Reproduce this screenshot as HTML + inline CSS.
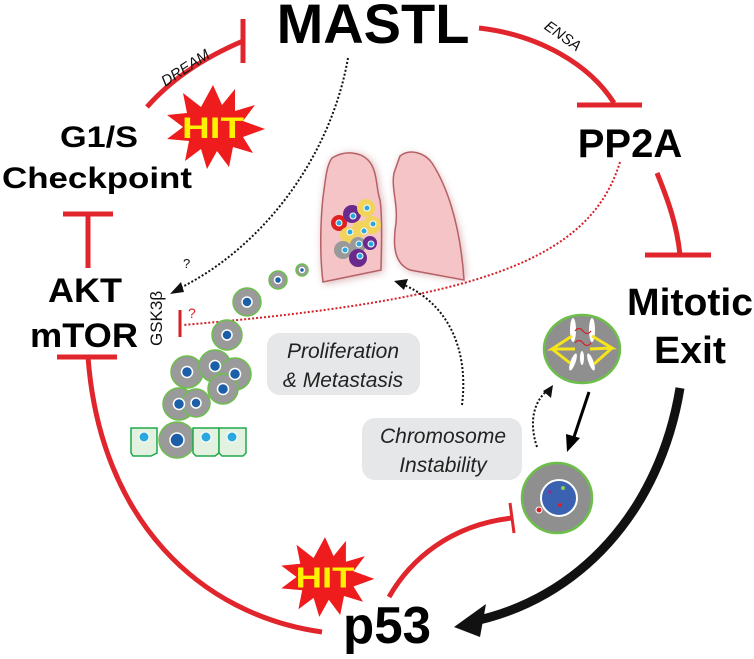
<!DOCTYPE html>
<html><head><meta charset="utf-8"><style>
html,body{margin:0;padding:0;background:#fff;}
svg{display:block;}
text{font-family:"Liberation Sans",sans-serif;}
</style></head><body>
<svg width="754" height="659" viewBox="0 0 754 659" xmlns="http://www.w3.org/2000/svg">
<defs>
<filter id="sh" x="-20%" y="-20%" width="140%" height="140%"><feGaussianBlur stdDeviation="4"/></filter>
</defs>
<!-- lungs -->
<g>
<path d="M332,160 C345,150 360,152 370,160 C380,170 378,190 382,200 C385,220 383,260 383,272 L324,284 C320,250 322,210 325,190 C327,175 328,165 332,160 Z" fill="#c98f92" filter="url(#sh)" opacity="0.7"/>
<path d="M400,158 C410,150 425,155 432,165 C445,185 462,220 466,280 L412,272 C395,265 395,245 398,225 C400,205 393,190 396,175 Z" fill="#c98f92" filter="url(#sh)" opacity="0.7"/>
<path d="M332,158 C345,150 360,152 368,160 C378,170 376,190 380,200 C383,220 381,258 381,270 L323,282 C319,250 321,210 324,190 C326,175 327,165 332,158 Z" fill="#f4c4c6" stroke="#b56165" stroke-width="1.5"/>
<path d="M400,156 C410,148 425,153 432,163 C445,183 460,220 464,280 L410,270 C393,263 393,243 396,223 C398,203 391,188 394,173 Z" fill="#f4c4c6" stroke="#b56165" stroke-width="1.5"/>
<!-- tumor cluster in lung -->
<circle cx="339" cy="223" r="8" fill="#e02020"/>
<circle cx="352" cy="214" r="9" fill="#6a2a8c"/>
<circle cx="366" cy="208" r="9" fill="#f2d45c"/>
<circle cx="372" cy="225" r="9" fill="#f2d45c"/>
<circle cx="360" cy="229" r="8" fill="#f2d45c"/>
<circle cx="348" cy="235" r="8" fill="#f2d45c"/>
<circle cx="343" cy="250" r="9" fill="#999"/>
<circle cx="358" cy="245" r="8" fill="#999"/>
<circle cx="370" cy="243" r="7" fill="#6a2a8c"/>
<circle cx="358" cy="258" r="9" fill="#6a2a8c"/>
<g fill="#29a8e0" stroke="#fff" stroke-width="1"><circle cx="339" cy="223" r="3"/><circle cx="353" cy="216" r="3"/><circle cx="367" cy="208" r="3"/><circle cx="373" cy="224" r="3"/><circle cx="350" cy="232" r="3"/><circle cx="364" cy="231" r="3"/><circle cx="345" cy="250" r="3"/><circle cx="359" cy="244" r="3"/><circle cx="371" cy="244" r="3"/><circle cx="360" cy="256" r="3"/></g>
</g>
<!-- dotted connectors -->
<path d="M348,58 C330,160 260,250 176,290" fill="none" stroke="#111" stroke-width="2" stroke-dasharray="2,2"/>
<polygon points="170,294 181,282 184,292" fill="#111"/>
<text x="183" y="268" font-size="13" fill="#111">?</text>
<path d="M620,162 C590,260 480,300 183,325" fill="none" stroke="#d42027" stroke-width="2" stroke-dasharray="2,2"/>
<line x1="180" y1="310" x2="180" y2="337" stroke="#d42027" stroke-width="3"/>
<text x="188" y="318" font-size="14" fill="#d42027">?</text>
<text transform="translate(162,346) rotate(-90)" font-size="17" fill="#111">GSK3β</text>
<path d="M462,405 C470,340 440,300 404,285" fill="none" stroke="#111" stroke-width="2" stroke-dasharray="2,2"/>
<polygon points="394,281 408,279 404,290" fill="#111"/>
<path d="M537,447 C528,420 535,400 548,390" fill="none" stroke="#111" stroke-width="2" stroke-dasharray="2,2"/>
<polygon points="553,385 551,398 543,391" fill="#111"/>
<!-- metastasis cells -->
<g fill="#9a9a9a" stroke="#6cc04a" stroke-width="1.5">
<circle cx="302" cy="270" r="6"/><circle cx="278" cy="280" r="9"/>
<circle cx="247" cy="302" r="14"/><circle cx="227" cy="335" r="15"/>
<circle cx="187" cy="372" r="16"/><circle cx="215" cy="366" r="16"/><circle cx="235" cy="374" r="16"/><circle cx="223" cy="389" r="15"/>
<circle cx="179" cy="404" r="16"/><circle cx="196" cy="403" r="14"/><circle cx="177" cy="440" r="18"/>
</g>
<g fill="#1a5fa8" stroke="#fff" stroke-width="1.5">
<circle cx="302" cy="270" r="2.5"/><circle cx="278" cy="280" r="3.5"/>
<circle cx="247" cy="302" r="5"/><circle cx="227" cy="335" r="5"/>
<circle cx="187" cy="372" r="5.5"/><circle cx="215" cy="366" r="5.5"/><circle cx="235" cy="374" r="5.5"/><circle cx="223" cy="389" r="5.5"/>
<circle cx="179" cy="404" r="5.5"/><circle cx="196" cy="403" r="5"/><circle cx="177" cy="440" r="7"/>
</g>
<g fill="#e3f2e0" stroke="#1ea84a" stroke-width="1.5">
<path d="M131,428 H157 V453 L151,456 H133 L131,453 Z"/>
<path d="M193,428 H219 V453 L215,456 H196 L193,453 Z"/>
<path d="M219,428 H246 V453 L243,456 H222 L219,453 Z"/>
</g>
<g fill="#29a8e0" stroke="#fff" stroke-width="1"><circle cx="144" cy="437" r="5"/><circle cx="206" cy="437" r="5"/><circle cx="232" cy="437" r="5"/></g>
<!-- boxes -->
<rect x="267" y="333" width="153" height="62" rx="13" fill="#e6e7e8"/>
<text x="343" y="358" font-size="21" font-style="italic" text-anchor="middle" fill="#222">Proliferation</text>
<text x="343" y="387" font-size="21" font-style="italic" text-anchor="middle" fill="#222">&amp; Metastasis</text>
<rect x="362" y="418" width="160" height="62" rx="13" fill="#e6e7e8"/>
<text x="443" y="443" font-size="21" font-style="italic" text-anchor="middle" fill="#222">Chromosome</text>
<text x="443" y="472" font-size="21" font-style="italic" text-anchor="middle" fill="#222">Instability</text>
<!-- spindle cell -->
<ellipse cx="582" cy="349" rx="38" ry="34" fill="#8f8f8f" stroke="#6cc04a" stroke-width="2.5"/>
<g fill="#fff"><ellipse cx="573" cy="330" rx="3" ry="12"/><ellipse cx="592" cy="330" rx="3" ry="12"/><ellipse cx="573" cy="362" rx="2.5" ry="9" transform="rotate(20 573 362)"/><ellipse cx="591" cy="362" rx="2.5" ry="9" transform="rotate(-20 591 362)"/><ellipse cx="582" cy="358" rx="2" ry="7"/></g>
<path d="M575,349 L552,349 L572,336 M552,349 L570,363 M590,349 L612,348 L592,336 M612,348 L594,364" fill="none" stroke="#f5e51a" stroke-width="3"/>
<path d="M575,331 q4,-5 8,0 q4,5 8,0 M575,343 q4,-5 8,0 q4,5 8,0" fill="none" stroke="#d42027" stroke-width="1.2"/>
<!-- black arrow down -->
<line x1="589" y1="392" x2="573" y2="440" stroke="#000" stroke-width="3"/>
<polygon points="567,452 566,434 580,438" fill="#000"/>
<!-- bottom cell -->
<circle cx="557" cy="498" r="35" fill="#8f8f8f" stroke="#6cc04a" stroke-width="2.5"/>
<circle cx="559" cy="498" r="18" fill="#3a62b0" stroke="#fff" stroke-width="2"/>
<circle cx="563" cy="488" r="2" fill="#8fd14f"/><circle cx="550" cy="492" r="2" fill="#7a3a9a"/><circle cx="560" cy="505" r="2" fill="#d42027"/>
<circle cx="539" cy="510" r="3" fill="#d42027" stroke="#fff" stroke-width="1"/>
<!-- red inhibitions -->
<g fill="none" stroke="#e0262c" stroke-width="5">
<path d="M147,107 C175,75 210,55 243,41"/>
<line x1="243" y1="19" x2="243" y2="63"/>
<path d="M479,28 C540,35 590,65 614,103"/>
<line x1="577" y1="105" x2="642" y2="105"/>
<path d="M657,173 C668,200 677,225 680,255"/>
<line x1="645" y1="255" x2="711" y2="255"/>
<line x1="88" y1="214" x2="88" y2="268"/>
<line x1="63" y1="214" x2="113" y2="214"/>
<path d="M88,357 C100,520 200,615 322,632"/>
<line x1="57" y1="357" x2="117" y2="357"/>
<path d="M389,597 C410,560 450,525 512,518"/>
</g>
<line x1="510" y1="503" x2="514" y2="533" stroke="#e0262c" stroke-width="3"/>
<!-- big black arrow -->
<path d="M680,388 C660,510 580,600 470,622" fill="none" stroke="#111" stroke-width="9"/>
<polygon points="454,627 486,604 480,637" fill="#111"/>
<!-- labels -->
<text transform="translate(188,72) rotate(-33)" font-size="15" font-style="italic" text-anchor="middle" fill="#111">DREAM</text>
<text transform="translate(560,40) rotate(35)" font-size="15" font-style="italic" text-anchor="middle" fill="#111">ENSA</text>
<text x="373" y="43" font-size="56" font-weight="bold" text-anchor="middle" fill="#000">MASTL</text>
<text x="630" y="157" font-size="40" font-weight="bold" text-anchor="middle" fill="#000">PP2A</text>
<text x="99" y="147" font-size="30" font-weight="bold" text-anchor="middle" fill="#000" textLength="78" lengthAdjust="spacingAndGlyphs">G1/S</text>
<text x="97" y="188" font-size="30" font-weight="bold" text-anchor="middle" fill="#000" textLength="190" lengthAdjust="spacingAndGlyphs">Checkpoint</text>
<text x="85" y="302" font-size="34" font-weight="bold" text-anchor="middle" fill="#000" textLength="74" lengthAdjust="spacingAndGlyphs">AKT</text>
<text x="84" y="347" font-size="34" font-weight="bold" text-anchor="middle" fill="#000" textLength="108" lengthAdjust="spacingAndGlyphs">mTOR</text>
<text x="690" y="315" font-size="38" font-weight="bold" text-anchor="middle" fill="#000" textLength="126" lengthAdjust="spacingAndGlyphs">Mitotic</text>
<text x="690" y="363" font-size="38" font-weight="bold" text-anchor="middle" fill="#000" textLength="72" lengthAdjust="spacingAndGlyphs">Exit</text>
<text x="387" y="643" font-size="52" font-weight="bold" text-anchor="middle" fill="#000" textLength="88" lengthAdjust="spacingAndGlyphs">p53</text>
<!-- HIT bursts -->
<g transform="translate(213,127)">
<polygon points="0,-42 9,-22 22,-38 22,-16 42,-22 30,-6 52,2 30,10 40,26 20,20 16,40 4,24 -6,42 -12,22 -28,34 -24,14 -46,12 -30,0 -46,-12 -26,-14 -30,-34 -12,-20" fill="#ee1c1c"/>
<text x="0" y="11" font-size="30" font-weight="bold" text-anchor="middle" fill="#fff200" textLength="62" lengthAdjust="spacingAndGlyphs">HIT</text>
</g>
<g transform="translate(325,577) scale(0.95)">
<polygon points="0,-42 9,-22 22,-38 22,-16 42,-22 30,-6 52,2 30,10 40,26 20,20 16,40 4,24 -6,42 -12,22 -28,34 -24,14 -46,12 -30,0 -46,-12 -26,-14 -30,-34 -12,-20" fill="#ee1c1c"/>
<text x="0" y="11" font-size="30" font-weight="bold" text-anchor="middle" fill="#fff200" textLength="62" lengthAdjust="spacingAndGlyphs">HIT</text>
</g>
</svg>
</body></html>
